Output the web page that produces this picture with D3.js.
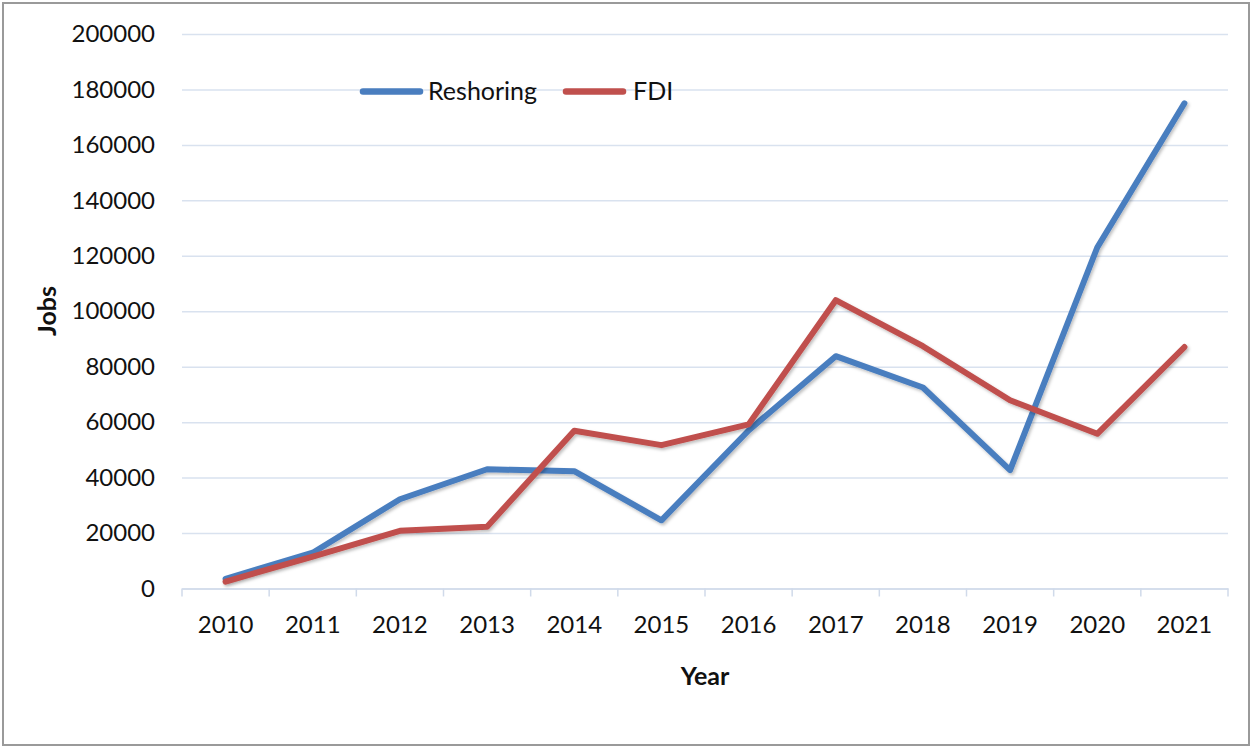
<!DOCTYPE html>
<html>
<head>
<meta charset="utf-8">
<script src="https://cdn.jsdelivr.net/npm/d3@7"></script>
<style>
  html, body { margin: 0; padding: 0; background: #fff; }
  svg { display: block; }
  text { font-family: Lato, "Open Sans", sans-serif; fill: #111; }
</style>
</head>
<body>
<svg id="chart" width="1252" height="748"></svg>
<script>
const years = ["2010","2011","2012","2013","2014","2015","2016","2017","2018","2019","2020","2021"];
const reshoring = [3500, 12900, 32200, 43000, 42300, 24600, 57000, 83800, 72500, 42700, 123000, 175000];
const fdi = [2500, 11500, 20800, 22300, 56900, 51700, 59200, 104000, 87400, 67900, 55800, 87100];
const yTicks = [0, 20000, 40000, 60000, 80000, 100000, 120000, 140000, 160000, 180000, 200000];
const seriesNames = ["Reshoring", "FDI"];
const seriesColors = ["#4A7EBF", "#C0504D"];

(function () {
const svg = d3.select("#chart");
const W = 1252, H = 748;

// frame
svg.append("rect").attr("x", 3).attr("y", 3).attr("width", W - 6).attr("height", H - 6)
  .attr("fill", "#fff").attr("stroke", "#9a9a9a").attr("stroke-width", 2);

const pLeft = 182, pRight = 1228, pTop = 34, pBottom = 588.5;

const x = d3.scaleBand().domain(years).range([pLeft, pRight]).padding(0);
const y = d3.scaleLinear().domain([0, 200000]).range([pBottom, pTop]);

const defs = svg.append("defs");
const f = defs.append("filter").attr("id", "shadow").attr("x", "-10%").attr("y", "-10%").attr("width", "120%").attr("height", "120%");
f.append("feDropShadow").attr("dx", 1.5).attr("dy", 2).attr("stdDeviation", 1.5).attr("flood-color", "#000").attr("flood-opacity", 0.25);

// y axis with grid
const yAxis = svg.append("g").attr("transform", `translate(${pLeft},0)`)
  .call(d3.axisLeft(y).tickValues(yTicks).tickSize(-(pRight - pLeft)).tickPadding(27).tickFormat(d3.format("d")));
yAxis.select(".domain").remove();
yAxis.selectAll(".tick line").attr("stroke", "#D9E2EF").attr("stroke-width", 1.5);
yAxis.selectAll(".tick text").attr("font-size", 24).attr("fill", "#111")
  .style("font-family", "Lato, 'Open Sans', sans-serif");

// x axis
const xAxis = svg.append("g").attr("transform", `translate(0,${pBottom})`)
  .call(d3.axisBottom(x).tickSize(0).tickPadding(27));
xAxis.select(".domain").attr("stroke", "#D0DAEA").attr("stroke-width", 1.5);
xAxis.selectAll(".tick text").attr("font-size", 24).attr("fill", "#111")
  .style("font-family", "Lato, 'Open Sans', sans-serif");
// boundary tick marks
const bounds = years.map(d => x(d)).concat([x(years[years.length - 1]) + x.bandwidth()]);
xAxis.selectAll(".btick").data(bounds).enter().append("line")
  .attr("x1", d => d).attr("x2", d => d).attr("y1", 0).attr("y2", 8)
  .attr("stroke", "#D0DAEA").attr("stroke-width", 1.5);

// lines
const line = d3.line().x((d, i) => x(years[i]) + x.bandwidth() / 2).y(d => y(d));
[reshoring, fdi].forEach((s, i) => {
  svg.append("path").datum(s).attr("d", line)
    .attr("fill", "none").attr("stroke", seriesColors[i]).attr("stroke-width", 6)
    .attr("stroke-linejoin", "round").attr("stroke-linecap", "round")
    .attr("filter", "url(#shadow)");
});

// legend
const legendItems = [{x: 363, tx: 428}, {x: 566, tx: 633}];
seriesNames.forEach((n, i) => {
  const li = legendItems[i];
  svg.append("line").attr("x1", li.x).attr("x2", li.x + 57).attr("y1", 91.5).attr("y2", 91.5)
    .attr("stroke", seriesColors[i]).attr("stroke-width", 6.5).attr("stroke-linecap", "round");
  svg.append("text").attr("x", li.tx).attr("y", 91.5).attr("dy", "0.35em")
    .attr("font-size", 25).text(n);
});

// axis titles
svg.append("text").attr("x", (pLeft + pRight) / 2).attr("y", 676).attr("dy", "0.35em")
  .attr("text-anchor", "middle").attr("font-size", 25).attr("font-weight", "bold").text("Year");
svg.append("text").attr("transform", "translate(47,311) rotate(-90)").attr("dy", "0.35em")
  .attr("text-anchor", "middle").attr("font-size", 25).attr("font-weight", "bold").text("Jobs");
})();
</script>
</body>
</html>
